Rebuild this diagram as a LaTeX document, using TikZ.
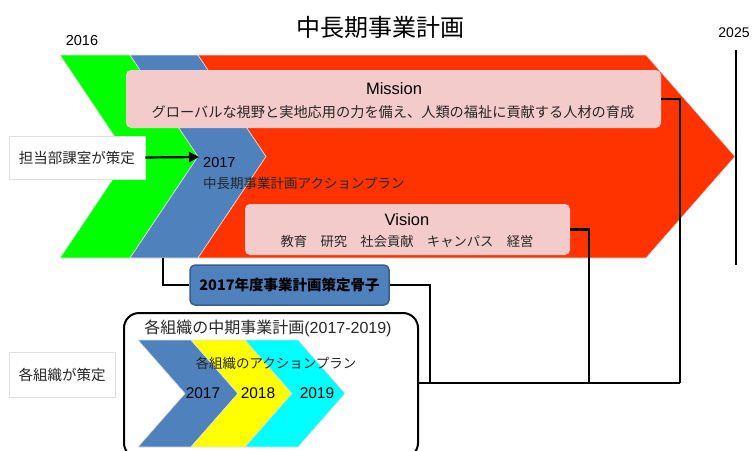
\documentclass[tikz,border=0pt]{standalone}
\usepackage{fontspec}
\setmainfont{Liberation Sans}
\newfontfamily\jp{Noto Sans CJK JP}
\usetikzlibrary{arrows.meta}
\definecolor{cred}{HTML}{FF3300}
\definecolor{cgreen}{HTML}{00FF00}
\definecolor{cblue}{HTML}{4F81BD}
\definecolor{cblueD}{HTML}{385D8A}
\definecolor{cpink}{HTML}{F3CBCB}
\definecolor{cyellow}{HTML}{FFFF00}
\definecolor{ccyan}{HTML}{00FFFF}
\tikzset{
  chev/.style={draw=black!12, line width=0.6pt},
  conn/.style={draw=black, line width=2.6pt},
  pinkbox/.style={fill=cpink, draw=none, rounded corners=5pt, inner sep=0pt},
  labelbox/.style={fill=white, draw=black!12, line width=0.8pt, inner sep=0pt},
  txt/.style={inner sep=0pt, text=black!85},
}
\begin{document}
\begin{tikzpicture}[x=1pt,y=-1pt]
\useasboundingbox (0,0) rectangle (752,450);
\clip (0,0) rectangle (752,450);

% big chevrons
\fill[cgreen, chev] (60,55) -- (130,55) -- (198,156.5) -- (130,258) -- (60,258) -- (128,156.5) -- cycle;
\fill[cblue, chev] (130,55) -- (198,55) -- (266,156.5) -- (198,258) -- (130,258) -- (198,156.5) -- cycle;
\fill[cred, chev] (198,55) -- (646,55) -- (735,156.5) -- (646,258) -- (198,258) -- (266,156.5) -- cycle;

% title and years
\node[txt, text=black] (title) at (380,27) {\jp\fontsize{24}{28}\selectfont 中長期事業計画};
\node[txt, text=black] (y2016) at (82,41) {\fontsize{14.5}{17}\selectfont 2016};
\node[txt, text=black] (y2025) at (734,33) {\fontsize{14}{17}\selectfont 2025};
\coordinate (endtop) at (736,50);
\coordinate (endbot) at (736,265);
\draw[conn] (endtop) -- (endbot);

% Mission / Vision
\node[pinkbox, minimum width=535pt, minimum height=58pt] (mission) at (393.5,99) {};
\node[txt, text=black] (missiont) at (394,89) {\fontsize{16.5}{19}\selectfont Mission};
\node[txt] (missions) at (393,112) {\jp\fontsize{14.2}{17}\selectfont グローバルな視野と実地応用の力を備え、人類の福祉に貢献する人材の育成};
\node[pinkbox, minimum width=325pt, minimum height=51pt] (vision) at (407.5,229.5) {};
\node[txt, text=black] (visiont) at (407,220) {\fontsize{16.5}{19}\selectfont Vision};
\node[txt] (visions) at (407,241) {\jp\fontsize{13.3}{16}\selectfont 教育　研究　社会貢献　キャンパス　経営};

% action plan text
\node[txt, text=black, anchor=west] (ap2017) at (203,163) {\fontsize{14.5}{17}\selectfont 2017};
\node[txt, anchor=west] (aptext) at (203,183) {\jp\fontsize{13.5}{16}\selectfont 中長期事業計画アクションプラン};

% left label boxes
\node[labelbox, minimum width=136pt, minimum height=43pt] (tanto) at (77,157.5) {\jp\fontsize{14.5}{17}\selectfont\color{black!85}担当部課室が策定};
\node[labelbox, minimum width=106pt, minimum height=45pt] (soshiki) at (62,374.5) {\jp\fontsize{14.5}{17}\selectfont\color{black!85}各組織が策定};
\coordinate (arrowend) at (199,157);
\draw[line width=2.2pt, -{Triangle[length=10pt,width=10pt]}] (tanto.east) -- (arrowend);

% plan box
\node[fill=cblue, draw=cblueD, line width=1.5pt, rounded corners=5pt, minimum width=199pt, minimum height=40pt, inner sep=0pt] (plan) at (289.5,285) {\jp\bfseries\fontsize{14.5}{17}\selectfont 2017年度事業計画策定骨子};
\coordinate (bluebot) at (163,258);
\draw[conn] (bluebot) |- (plan.west);

% organisation plan frame
\fill[cblue, chev] (138,340) -- (191,340) -- (238,393.5) -- (191,447) -- (138,447) -- (185,393.5) -- cycle;
\fill[cyellow, chev] (191,340) -- (245,340) -- (292,393.5) -- (245,447) -- (191,447) -- (238,393.5) -- cycle;
\fill[ccyan, chev] (245,340) -- (298,340) -- (345,393.5) -- (298,447) -- (245,447) -- (292,393.5) -- cycle;
\node[draw=black, line width=2pt, rounded corners=15pt, minimum width=294pt, minimum height=145pt, inner sep=0pt] (orgplan) at (271,385.5) {};
\node[txt] (orgtitle) at (268,328) {\fontsize{16}{19}\selectfont{\jp 各組織の中期事業計画}(2017-2019)};
\node[txt] (orgap) at (276,363) {\jp\fontsize{13.5}{16}\selectfont 各組織のアクションプラン};
\node[txt, text=black] (o2017) at (203,393) {\fontsize{15.5}{18}\selectfont 2017};
\node[txt, text=black] (o2018) at (258,393) {\fontsize{15.5}{18}\selectfont 2018};
\node[txt, text=black] (o2019) at (317,393) {\fontsize{15.5}{18}\selectfont 2019};

% connectors to hub line
\coordinate (hubP) at (430,383);
\coordinate (hubV) at (589,383);
\coordinate (hubM) at (680,383);
\draw[conn] (plan.east) -| (hubP);
\draw[conn] (vision.east) -| (hubV);
\draw[conn] (mission.east) -| (hubM);
\draw[conn] (orgplan.east |- hubM) -- (hubM);
\end{tikzpicture}
\end{document}
